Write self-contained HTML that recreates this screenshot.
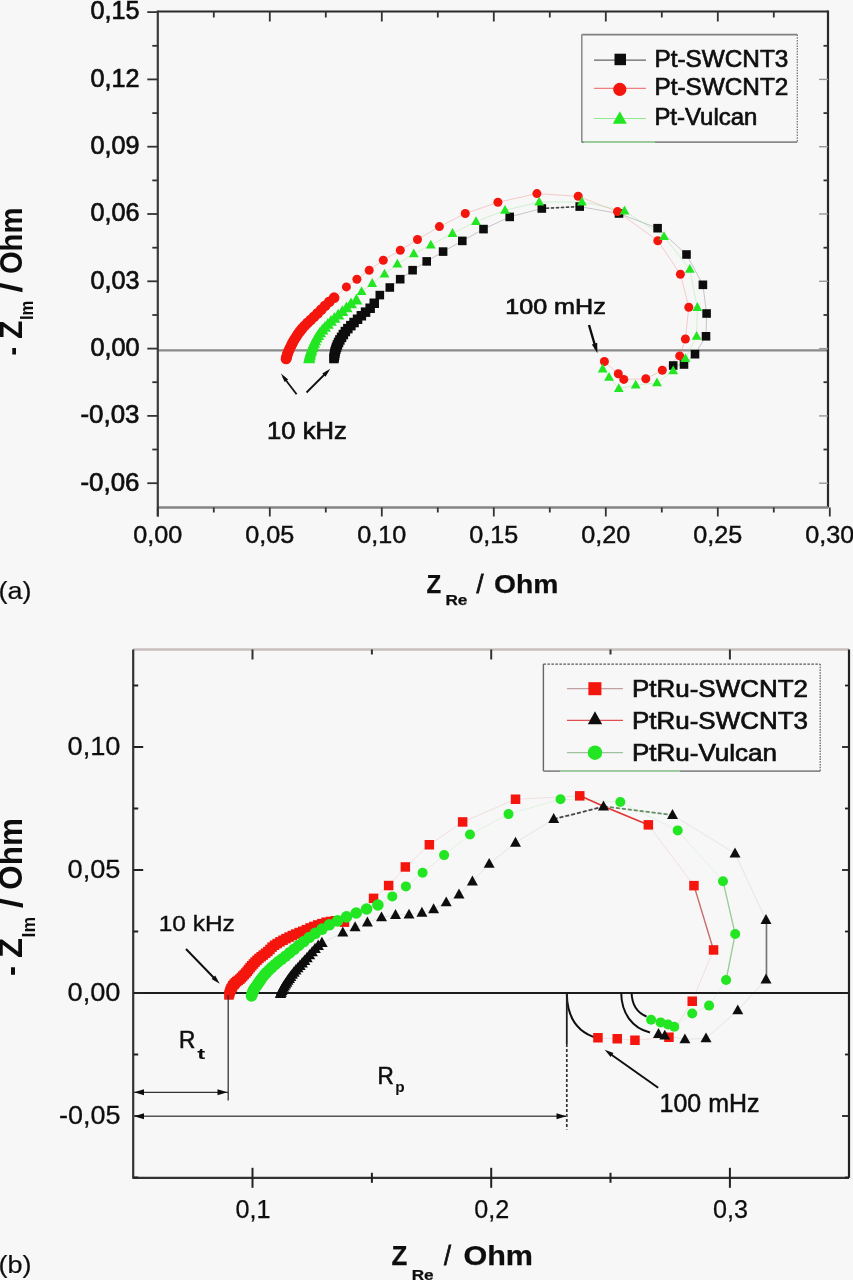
<!DOCTYPE html>
<html><head><meta charset="utf-8"><style>
html,body{margin:0;padding:0;background:#f7f7f7;}
svg{display:block;}
</style></head><body>
<svg width="853" height="1280" viewBox="0 0 853 1280">
<defs><filter id="soft" x="0" y="0" width="100%" height="100%"><feGaussianBlur stdDeviation="0.65"/></filter></defs>
<rect width="853" height="1280" fill="#f7f7f7"/>
<g filter="url(#soft)">
<rect width="853" height="1280" fill="#f7f7f7"/>
<line x1="158.0" y1="350.3" x2="828.0" y2="350.3" stroke="#8a8a8a" stroke-width="2.2"/>
<polyline points="332.5,358.5 332.7,356.9 333.0,355.2 333.3,353.4 333.7,351.4 334.3,349.4 335.0,347.2 335.9,344.9 337.1,342.5 338.4,339.9 340.1,337.3 341.9,334.5 343.8,331.5 346.4,328.6 349.3,325.7 352.5,322.6 356.0,319.3 359.8,315.8 364.1,312.2 368.6,308.2 372.7,303.3 379.8,295.1 389.8,287.5 400.2,279.2 412.6,270.2 426.7,261.4 443.1,251.6 462.3,240.9 483.5,229.1 509.7,216.9 541.8,208.5 579.7,206.6 619.0,213.5 657.6,228.2 686.5,254.5 702.9,284.8 706.6,313.5 706.0,336.3 695.0,354.2 684.0,364.5 673.2,365.5" fill="none" stroke="#666" stroke-width="1" stroke-opacity="0.35"/>
<polyline points="286.1,358.9 286.5,357.4 287.0,355.7 287.5,354.0 288.1,352.2 289.0,350.3 289.9,348.3 290.9,346.2 292.0,344.0 293.1,341.7 294.6,339.3 296.2,336.8 297.9,334.1 299.9,331.4 302.1,328.6 304.7,325.8 307.5,322.9 310.7,320.0 314.0,316.8 317.5,313.4 321.2,309.7 325.1,305.8 329.3,301.8 334.1,297.7 346.4,286.9 356.9,279.3 369.2,270.2 383.3,260.2 400.3,250.3 417.5,239.5 439.4,226.6 465.3,213.5 497.9,202.3 536.9,193.6 578.2,196.3 617.5,211.6 657.8,240.8 680.4,274.2 688.8,307.3 685.4,339.0 679.7,355.9 662.3,370.3 645.8,378.8 623.8,379.4 618.3,373.8 604.4,361.5" fill="none" stroke="#f06060" stroke-width="1" stroke-opacity="0.3"/>
<polyline points="309.1,358.9 309.4,357.3 309.8,355.7 310.2,353.9 310.8,352.0 311.4,350.0 312.2,347.9 313.1,345.7 314.1,343.4 315.2,340.9 316.5,338.3 318.2,335.7 320.1,332.9 322.4,330.2 324.9,327.4 327.8,324.5 330.9,321.4 334.4,318.4 338.2,315.2 342.3,311.8 346.5,307.9 351.0,303.9 356.4,300.3 361.6,291.6 372.2,283.4 384.5,274.0 397.4,264.1 413.8,253.7 430.8,245.0 452.5,233.4 476.0,221.6 505.0,210.3 539.2,202.1 581.9,201.9 624.5,210.9 664.0,236.5 689.8,269.2 697.3,307.4 696.6,336.3 685.4,358.5 673.2,370.7 657.0,382.8 635.7,385.1 618.8,388.6 609.0,377.3 602.7,368.9" fill="none" stroke="#70e070" stroke-width="1" stroke-opacity="0.3"/>
<line x1="546.0" y1="208.3" x2="575.0" y2="206.8" stroke="#444" stroke-width="1.6" stroke-dasharray="3,2"/>
<rect x="329.2" y="353.8" width="9.5" height="9.5" fill="#111111"/>
<rect x="329.5" y="352.2" width="9.5" height="9.5" fill="#111111"/>
<rect x="329.8" y="350.5" width="9.5" height="9.5" fill="#111111"/>
<rect x="330.0" y="348.6" width="9.5" height="9.5" fill="#111111"/>
<rect x="330.4" y="346.7" width="9.5" height="9.5" fill="#111111"/>
<rect x="331.1" y="344.6" width="9.5" height="9.5" fill="#111111"/>
<rect x="331.8" y="342.4" width="9.5" height="9.5" fill="#111111"/>
<rect x="332.7" y="340.1" width="9.5" height="9.5" fill="#111111"/>
<rect x="333.8" y="337.7" width="9.5" height="9.5" fill="#111111"/>
<rect x="335.1" y="335.2" width="9.5" height="9.5" fill="#111111"/>
<rect x="336.8" y="332.6" width="9.5" height="9.5" fill="#111111"/>
<rect x="338.6" y="329.8" width="9.5" height="9.5" fill="#111111"/>
<rect x="340.6" y="326.8" width="9.5" height="9.5" fill="#111111"/>
<rect x="343.1" y="323.9" width="9.5" height="9.5" fill="#111111"/>
<rect x="346.1" y="320.9" width="9.5" height="9.5" fill="#111111"/>
<rect x="349.3" y="317.8" width="9.5" height="9.5" fill="#111111"/>
<rect x="352.8" y="314.5" width="9.5" height="9.5" fill="#111111"/>
<rect x="356.6" y="311.0" width="9.5" height="9.5" fill="#111111"/>
<rect x="360.8" y="307.4" width="9.5" height="9.5" fill="#111111"/>
<rect x="365.4" y="303.5" width="9.5" height="9.5" fill="#111111"/>
<rect x="369.5" y="298.5" width="9.5" height="9.5" fill="#111111"/>
<rect x="375.5" y="290.8" width="8.6" height="8.6" fill="#111111"/>
<rect x="385.5" y="283.2" width="8.6" height="8.6" fill="#111111"/>
<rect x="395.9" y="274.9" width="8.6" height="8.6" fill="#111111"/>
<rect x="408.3" y="265.9" width="8.6" height="8.6" fill="#111111"/>
<rect x="422.4" y="257.1" width="8.6" height="8.6" fill="#111111"/>
<rect x="438.8" y="247.3" width="8.6" height="8.6" fill="#111111"/>
<rect x="458.0" y="236.6" width="8.6" height="8.6" fill="#111111"/>
<rect x="479.2" y="224.8" width="8.6" height="8.6" fill="#111111"/>
<rect x="505.4" y="212.6" width="8.6" height="8.6" fill="#111111"/>
<rect x="537.5" y="204.2" width="8.6" height="8.6" fill="#111111"/>
<rect x="575.4" y="202.3" width="8.6" height="8.6" fill="#111111"/>
<rect x="614.7" y="209.2" width="8.6" height="8.6" fill="#111111"/>
<rect x="653.3" y="223.9" width="8.6" height="8.6" fill="#111111"/>
<rect x="682.2" y="250.2" width="8.6" height="8.6" fill="#111111"/>
<rect x="698.6" y="280.5" width="8.6" height="8.6" fill="#111111"/>
<rect x="702.3" y="309.2" width="8.6" height="8.6" fill="#111111"/>
<rect x="701.7" y="332.0" width="8.6" height="8.6" fill="#111111"/>
<rect x="690.7" y="349.9" width="8.6" height="8.6" fill="#111111"/>
<rect x="679.7" y="360.2" width="8.6" height="8.6" fill="#111111"/>
<rect x="668.9" y="361.2" width="8.6" height="8.6" fill="#111111"/>
<circle cx="286.1" cy="358.9" r="5.4" fill="#f41410"/>
<circle cx="286.5" cy="357.4" r="5.4" fill="#f41410"/>
<circle cx="287.0" cy="355.7" r="5.4" fill="#f41410"/>
<circle cx="287.5" cy="354.0" r="5.4" fill="#f41410"/>
<circle cx="288.1" cy="352.2" r="5.4" fill="#f41410"/>
<circle cx="289.0" cy="350.3" r="5.4" fill="#f41410"/>
<circle cx="289.9" cy="348.3" r="5.4" fill="#f41410"/>
<circle cx="290.9" cy="346.2" r="5.4" fill="#f41410"/>
<circle cx="292.0" cy="344.0" r="5.4" fill="#f41410"/>
<circle cx="293.1" cy="341.7" r="5.4" fill="#f41410"/>
<circle cx="294.6" cy="339.3" r="5.4" fill="#f41410"/>
<circle cx="296.2" cy="336.8" r="5.4" fill="#f41410"/>
<circle cx="297.9" cy="334.1" r="5.4" fill="#f41410"/>
<circle cx="299.9" cy="331.4" r="5.4" fill="#f41410"/>
<circle cx="302.1" cy="328.6" r="5.4" fill="#f41410"/>
<circle cx="304.7" cy="325.8" r="5.4" fill="#f41410"/>
<circle cx="307.5" cy="322.9" r="5.4" fill="#f41410"/>
<circle cx="310.7" cy="320.0" r="5.4" fill="#f41410"/>
<circle cx="314.0" cy="316.8" r="5.4" fill="#f41410"/>
<circle cx="317.5" cy="313.4" r="5.4" fill="#f41410"/>
<circle cx="321.2" cy="309.7" r="5.4" fill="#f41410"/>
<circle cx="325.1" cy="305.8" r="5.4" fill="#f41410"/>
<circle cx="329.3" cy="301.8" r="5.4" fill="#f41410"/>
<circle cx="334.1" cy="297.7" r="5.4" fill="#f41410"/>
<circle cx="346.4" cy="286.9" r="4.5" fill="#f41410"/>
<circle cx="356.9" cy="279.3" r="4.5" fill="#f41410"/>
<circle cx="369.2" cy="270.2" r="4.5" fill="#f41410"/>
<circle cx="383.3" cy="260.2" r="4.5" fill="#f41410"/>
<circle cx="400.3" cy="250.3" r="4.5" fill="#f41410"/>
<circle cx="417.5" cy="239.5" r="4.5" fill="#f41410"/>
<circle cx="439.4" cy="226.6" r="4.5" fill="#f41410"/>
<circle cx="465.3" cy="213.5" r="4.5" fill="#f41410"/>
<circle cx="497.9" cy="202.3" r="4.5" fill="#f41410"/>
<circle cx="536.9" cy="193.6" r="4.5" fill="#f41410"/>
<circle cx="578.2" cy="196.3" r="4.5" fill="#f41410"/>
<circle cx="617.5" cy="211.6" r="4.5" fill="#f41410"/>
<circle cx="657.8" cy="240.8" r="4.5" fill="#f41410"/>
<circle cx="680.4" cy="274.2" r="4.5" fill="#f41410"/>
<circle cx="688.8" cy="307.3" r="4.5" fill="#f41410"/>
<circle cx="685.4" cy="339.0" r="4.5" fill="#f41410"/>
<circle cx="679.7" cy="355.9" r="4.5" fill="#f41410"/>
<circle cx="662.3" cy="370.3" r="4.5" fill="#f41410"/>
<circle cx="645.8" cy="378.8" r="4.5" fill="#f41410"/>
<circle cx="623.8" cy="379.4" r="4.5" fill="#f41410"/>
<circle cx="618.3" cy="373.8" r="4.5" fill="#f41410"/>
<circle cx="604.4" cy="361.5" r="4.5" fill="#f41410"/>
<polygon points="309.1,352.4 303.1,363.2 315.1,363.2" fill="#22e622"/>
<polygon points="309.4,350.9 303.4,361.7 315.4,361.7" fill="#22e622"/>
<polygon points="309.8,349.2 303.8,360.0 315.8,360.0" fill="#22e622"/>
<polygon points="310.2,347.4 304.2,358.2 316.2,358.2" fill="#22e622"/>
<polygon points="310.8,345.5 304.8,356.3 316.8,356.3" fill="#22e622"/>
<polygon points="311.4,343.6 305.4,354.4 317.4,354.4" fill="#22e622"/>
<polygon points="312.2,341.4 306.2,352.2 318.2,352.2" fill="#22e622"/>
<polygon points="313.1,339.2 307.1,350.0 319.1,350.0" fill="#22e622"/>
<polygon points="314.1,336.9 308.1,347.7 320.1,347.7" fill="#22e622"/>
<polygon points="315.2,334.4 309.2,345.2 321.2,345.2" fill="#22e622"/>
<polygon points="316.5,331.8 310.5,342.6 322.5,342.6" fill="#22e622"/>
<polygon points="318.2,329.2 312.2,340.0 324.2,340.0" fill="#22e622"/>
<polygon points="320.1,326.4 314.1,337.2 326.1,337.2" fill="#22e622"/>
<polygon points="322.4,323.7 316.4,334.5 328.4,334.5" fill="#22e622"/>
<polygon points="324.9,320.9 318.9,331.7 330.9,331.7" fill="#22e622"/>
<polygon points="327.8,318.0 321.8,328.8 333.8,328.8" fill="#22e622"/>
<polygon points="330.9,315.0 324.9,325.8 336.9,325.8" fill="#22e622"/>
<polygon points="334.4,311.9 328.4,322.7 340.4,322.7" fill="#22e622"/>
<polygon points="338.2,308.7 332.2,319.5 344.2,319.5" fill="#22e622"/>
<polygon points="342.3,305.3 336.3,316.1 348.3,316.1" fill="#22e622"/>
<polygon points="346.5,301.4 340.5,312.2 352.5,312.2" fill="#22e622"/>
<polygon points="351.0,297.4 345.0,308.2 357.0,308.2" fill="#22e622"/>
<polygon points="356.4,293.8 350.4,304.6 362.4,304.6" fill="#22e622"/>
<polygon points="361.6,286.3 356.7,295.1 366.5,295.1" fill="#22e622"/>
<polygon points="372.2,278.1 367.3,286.9 377.1,286.9" fill="#22e622"/>
<polygon points="384.5,268.7 379.6,277.5 389.4,277.5" fill="#22e622"/>
<polygon points="397.4,258.8 392.5,267.6 402.3,267.6" fill="#22e622"/>
<polygon points="413.8,248.4 408.9,257.2 418.7,257.2" fill="#22e622"/>
<polygon points="430.8,239.7 425.9,248.5 435.7,248.5" fill="#22e622"/>
<polygon points="452.5,228.1 447.6,236.9 457.4,236.9" fill="#22e622"/>
<polygon points="476.0,216.3 471.1,225.1 480.9,225.1" fill="#22e622"/>
<polygon points="505.0,205.0 500.1,213.8 509.9,213.8" fill="#22e622"/>
<polygon points="539.2,196.8 534.3,205.6 544.1,205.6" fill="#22e622"/>
<polygon points="581.9,196.6 577.0,205.4 586.8,205.4" fill="#22e622"/>
<polygon points="624.5,205.6 619.6,214.4 629.4,214.4" fill="#22e622"/>
<polygon points="664.0,231.2 659.1,240.0 668.9,240.0" fill="#22e622"/>
<polygon points="689.8,263.9 684.9,272.7 694.7,272.7" fill="#22e622"/>
<polygon points="697.3,302.1 692.4,310.9 702.2,310.9" fill="#22e622"/>
<polygon points="696.6,331.0 691.7,339.8 701.5,339.8" fill="#22e622"/>
<polygon points="685.4,353.2 680.5,362.0 690.3,362.0" fill="#22e622"/>
<polygon points="673.2,365.4 668.3,374.2 678.1,374.2" fill="#22e622"/>
<polygon points="657.0,377.5 652.1,386.3 661.9,386.3" fill="#22e622"/>
<polygon points="635.7,379.8 630.8,388.6 640.6,388.6" fill="#22e622"/>
<polygon points="618.8,383.3 613.9,392.1 623.7,392.1" fill="#22e622"/>
<polygon points="609.0,372.0 604.1,380.8 613.9,380.8" fill="#22e622"/>
<polygon points="602.7,363.6 597.8,372.4 607.6,372.4" fill="#22e622"/>
<line x1="157.8" y1="11.5" x2="828.0" y2="11.5" stroke="#2a2a2a" stroke-width="2.2"/>
<line x1="828.0" y1="10.5" x2="828.0" y2="507.5" stroke="#2a2a2a" stroke-width="2.2"/>
<line x1="157.8" y1="507.5" x2="828.0" y2="507.5" stroke="#858585" stroke-width="2.5"/>
<line x1="157.8" y1="10.5" x2="157.8" y2="516.5" stroke="#3a3a3a" stroke-width="2.2"/>
<line x1="147.3" y1="483.2" x2="157.8" y2="483.2" stroke="#333" stroke-width="1.8"/>
<line x1="819.0" y1="483.2" x2="828.0" y2="483.2" stroke="#999" stroke-width="1.4"/>
<text x="139.5" y="490.5" font-family="Liberation Sans" font-size="25.5" font-weight="normal" text-anchor="end" fill="#111" stroke="#111" stroke-width="0.7" textLength="59" lengthAdjust="spacingAndGlyphs">-0,06</text>
<line x1="152.3" y1="449.5" x2="157.8" y2="449.5" stroke="#333" stroke-width="1.8"/>
<line x1="823.5" y1="449.5" x2="828.0" y2="449.5" stroke="#333" stroke-width="1.8"/>
<line x1="147.3" y1="415.9" x2="157.8" y2="415.9" stroke="#333" stroke-width="1.8"/>
<line x1="819.0" y1="415.9" x2="828.0" y2="415.9" stroke="#999" stroke-width="1.4"/>
<text x="139.5" y="423.2" font-family="Liberation Sans" font-size="25.5" font-weight="normal" text-anchor="end" fill="#111" stroke="#111" stroke-width="0.7" textLength="59" lengthAdjust="spacingAndGlyphs">-0,03</text>
<line x1="152.3" y1="382.2" x2="157.8" y2="382.2" stroke="#333" stroke-width="1.8"/>
<line x1="823.5" y1="382.2" x2="828.0" y2="382.2" stroke="#333" stroke-width="1.8"/>
<line x1="147.3" y1="348.6" x2="157.8" y2="348.6" stroke="#333" stroke-width="1.8"/>
<line x1="819.0" y1="348.6" x2="828.0" y2="348.6" stroke="#999" stroke-width="1.4"/>
<text x="139.5" y="355.9" font-family="Liberation Sans" font-size="25.5" font-weight="normal" text-anchor="end" fill="#111" stroke="#111" stroke-width="0.7" textLength="49" lengthAdjust="spacingAndGlyphs">0,00</text>
<line x1="152.3" y1="315.0" x2="157.8" y2="315.0" stroke="#333" stroke-width="1.8"/>
<line x1="823.5" y1="315.0" x2="828.0" y2="315.0" stroke="#333" stroke-width="1.8"/>
<line x1="147.3" y1="281.3" x2="157.8" y2="281.3" stroke="#333" stroke-width="1.8"/>
<line x1="819.0" y1="281.3" x2="828.0" y2="281.3" stroke="#999" stroke-width="1.4"/>
<text x="139.5" y="288.6" font-family="Liberation Sans" font-size="25.5" font-weight="normal" text-anchor="end" fill="#111" stroke="#111" stroke-width="0.7" textLength="49" lengthAdjust="spacingAndGlyphs">0,03</text>
<line x1="152.3" y1="247.7" x2="157.8" y2="247.7" stroke="#333" stroke-width="1.8"/>
<line x1="823.5" y1="247.7" x2="828.0" y2="247.7" stroke="#333" stroke-width="1.8"/>
<line x1="147.3" y1="214.0" x2="157.8" y2="214.0" stroke="#333" stroke-width="1.8"/>
<line x1="819.0" y1="214.0" x2="828.0" y2="214.0" stroke="#999" stroke-width="1.4"/>
<text x="139.5" y="221.3" font-family="Liberation Sans" font-size="25.5" font-weight="normal" text-anchor="end" fill="#111" stroke="#111" stroke-width="0.7" textLength="49" lengthAdjust="spacingAndGlyphs">0,06</text>
<line x1="152.3" y1="180.4" x2="157.8" y2="180.4" stroke="#333" stroke-width="1.8"/>
<line x1="823.5" y1="180.4" x2="828.0" y2="180.4" stroke="#333" stroke-width="1.8"/>
<line x1="147.3" y1="146.7" x2="157.8" y2="146.7" stroke="#333" stroke-width="1.8"/>
<line x1="819.0" y1="146.7" x2="828.0" y2="146.7" stroke="#999" stroke-width="1.4"/>
<text x="139.5" y="154.0" font-family="Liberation Sans" font-size="25.5" font-weight="normal" text-anchor="end" fill="#111" stroke="#111" stroke-width="0.7" textLength="49" lengthAdjust="spacingAndGlyphs">0,09</text>
<line x1="152.3" y1="113.1" x2="157.8" y2="113.1" stroke="#333" stroke-width="1.8"/>
<line x1="823.5" y1="113.1" x2="828.0" y2="113.1" stroke="#333" stroke-width="1.8"/>
<line x1="147.3" y1="79.4" x2="157.8" y2="79.4" stroke="#333" stroke-width="1.8"/>
<line x1="819.0" y1="79.4" x2="828.0" y2="79.4" stroke="#999" stroke-width="1.4"/>
<text x="139.5" y="86.7" font-family="Liberation Sans" font-size="25.5" font-weight="normal" text-anchor="end" fill="#111" stroke="#111" stroke-width="0.7" textLength="49" lengthAdjust="spacingAndGlyphs">0,12</text>
<line x1="152.3" y1="45.8" x2="157.8" y2="45.8" stroke="#333" stroke-width="1.8"/>
<line x1="823.5" y1="45.8" x2="828.0" y2="45.8" stroke="#333" stroke-width="1.8"/>
<line x1="147.3" y1="12.1" x2="157.8" y2="12.1" stroke="#333" stroke-width="1.8"/>
<text x="139.5" y="19.4" font-family="Liberation Sans" font-size="25.5" font-weight="normal" text-anchor="end" fill="#111" stroke="#111" stroke-width="0.7" textLength="49" lengthAdjust="spacingAndGlyphs">0,15</text>
<line x1="157.8" y1="507.5" x2="157.8" y2="516.5" stroke="#333" stroke-width="1.8"/>
<text x="157.8" y="543.2" font-family="Liberation Sans" font-size="24.5" font-weight="normal" text-anchor="middle" fill="#111" stroke="#111" stroke-width="0.45" textLength="49" lengthAdjust="spacingAndGlyphs">0,00</text>
<line x1="213.8" y1="507.5" x2="213.8" y2="512.5" stroke="#333" stroke-width="1.8"/>
<line x1="213.8" y1="11.5" x2="213.8" y2="17.5" stroke="#333" stroke-width="1.8"/>
<line x1="269.8" y1="507.5" x2="269.8" y2="516.5" stroke="#333" stroke-width="1.8"/>
<line x1="269.8" y1="11.5" x2="269.8" y2="21.5" stroke="#333" stroke-width="1.8"/>
<text x="269.8" y="543.2" font-family="Liberation Sans" font-size="24.5" font-weight="normal" text-anchor="middle" fill="#111" stroke="#111" stroke-width="0.45" textLength="49" lengthAdjust="spacingAndGlyphs">0,05</text>
<line x1="325.8" y1="507.5" x2="325.8" y2="512.5" stroke="#333" stroke-width="1.8"/>
<line x1="325.8" y1="11.5" x2="325.8" y2="17.5" stroke="#333" stroke-width="1.8"/>
<line x1="381.8" y1="507.5" x2="381.8" y2="516.5" stroke="#333" stroke-width="1.8"/>
<line x1="381.8" y1="11.5" x2="381.8" y2="21.5" stroke="#333" stroke-width="1.8"/>
<text x="381.8" y="543.2" font-family="Liberation Sans" font-size="24.5" font-weight="normal" text-anchor="middle" fill="#111" stroke="#111" stroke-width="0.45" textLength="49" lengthAdjust="spacingAndGlyphs">0,10</text>
<line x1="437.8" y1="507.5" x2="437.8" y2="512.5" stroke="#333" stroke-width="1.8"/>
<line x1="437.8" y1="11.5" x2="437.8" y2="17.5" stroke="#333" stroke-width="1.8"/>
<line x1="493.8" y1="507.5" x2="493.8" y2="516.5" stroke="#333" stroke-width="1.8"/>
<line x1="493.8" y1="11.5" x2="493.8" y2="21.5" stroke="#333" stroke-width="1.8"/>
<text x="493.8" y="543.2" font-family="Liberation Sans" font-size="24.5" font-weight="normal" text-anchor="middle" fill="#111" stroke="#111" stroke-width="0.45" textLength="49" lengthAdjust="spacingAndGlyphs">0,15</text>
<line x1="549.8" y1="507.5" x2="549.8" y2="512.5" stroke="#333" stroke-width="1.8"/>
<line x1="549.8" y1="11.5" x2="549.8" y2="17.5" stroke="#333" stroke-width="1.8"/>
<line x1="605.8" y1="507.5" x2="605.8" y2="516.5" stroke="#333" stroke-width="1.8"/>
<line x1="605.8" y1="11.5" x2="605.8" y2="21.5" stroke="#333" stroke-width="1.8"/>
<text x="605.8" y="543.2" font-family="Liberation Sans" font-size="24.5" font-weight="normal" text-anchor="middle" fill="#111" stroke="#111" stroke-width="0.45" textLength="49" lengthAdjust="spacingAndGlyphs">0,20</text>
<line x1="661.8" y1="507.5" x2="661.8" y2="512.5" stroke="#333" stroke-width="1.8"/>
<line x1="661.8" y1="11.5" x2="661.8" y2="17.5" stroke="#333" stroke-width="1.8"/>
<line x1="717.8" y1="507.5" x2="717.8" y2="516.5" stroke="#333" stroke-width="1.8"/>
<line x1="717.8" y1="11.5" x2="717.8" y2="21.5" stroke="#333" stroke-width="1.8"/>
<text x="717.8" y="543.2" font-family="Liberation Sans" font-size="24.5" font-weight="normal" text-anchor="middle" fill="#111" stroke="#111" stroke-width="0.45" textLength="49" lengthAdjust="spacingAndGlyphs">0,25</text>
<line x1="773.8" y1="507.5" x2="773.8" y2="512.5" stroke="#333" stroke-width="1.8"/>
<line x1="773.8" y1="11.5" x2="773.8" y2="17.5" stroke="#333" stroke-width="1.8"/>
<line x1="829.8" y1="507.5" x2="829.8" y2="516.5" stroke="#333" stroke-width="1.8"/>
<text x="829.8" y="543.2" font-family="Liberation Sans" font-size="24.5" font-weight="normal" text-anchor="middle" fill="#111" stroke="#111" stroke-width="0.45" textLength="49" lengthAdjust="spacingAndGlyphs">0,30</text>
<line x1="581.8" y1="34.6" x2="797.3" y2="34.6" stroke="#808080" stroke-width="1.6"/>
<line x1="581.8" y1="34.6" x2="581.8" y2="142.4" stroke="#888" stroke-width="1.5"/>
<line x1="581.8" y1="142.2" x2="797.3" y2="142.2" stroke="#8a8a8a" stroke-width="1.8"/>
<line x1="584.0" y1="142.2" x2="655.0" y2="142.2" stroke="#9ad09a" stroke-width="1.8"/>
<line x1="797.3" y1="34.6" x2="797.3" y2="142.4" stroke="#777" stroke-width="1.3" stroke-dasharray="1.5,1.2"/>
<line x1="594.0" y1="60.2" x2="646.0" y2="60.2" stroke="#666" stroke-width="1.2"/>
<rect x="614.5" y="53.7" width="11.5" height="11.5" fill="#111111"/>
<text x="654.4" y="66.7" font-family="Liberation Sans" font-size="24.5" font-weight="normal" text-anchor="start" fill="#111" stroke="#111" stroke-width="0.7" textLength="134" lengthAdjust="spacingAndGlyphs">Pt-SWCNT3</text>
<line x1="594.0" y1="88.4" x2="646.0" y2="88.4" stroke="#f08080" stroke-width="1.2"/>
<circle cx="619.8" cy="89.4" r="6.6" fill="#f41410"/>
<text x="654.4" y="94.9" font-family="Liberation Sans" font-size="24.5" font-weight="normal" text-anchor="start" fill="#111" stroke="#111" stroke-width="0.7" textLength="134" lengthAdjust="spacingAndGlyphs">Pt-SWCNT2</text>
<line x1="594.0" y1="118.5" x2="646.0" y2="118.5" stroke="#90e890" stroke-width="1.2"/>
<polygon points="619.8,111.2 612.8,123.8 626.8,123.8" fill="#22e622"/>
<text x="654.4" y="125.0" font-family="Liberation Sans" font-size="24.5" font-weight="normal" text-anchor="start" fill="#111" stroke="#111" stroke-width="0.7" textLength="103" lengthAdjust="spacingAndGlyphs">Pt-Vulcan</text>
<text x="267.1" y="439.3" font-family="Liberation Sans" font-size="24" font-weight="normal" text-anchor="start" fill="#111" stroke="#111" stroke-width="0.7" textLength="79.6" lengthAdjust="spacingAndGlyphs">10 kHz</text>
<line x1="296.6" y1="394.2" x2="283.0" y2="376.5" stroke="#111" stroke-width="1.8"/>
<polygon points="281.0,373.6 288.2,379.4 284.6,382.1" fill="#111"/>
<line x1="306.5" y1="392.5" x2="327.5" y2="371.5" stroke="#111" stroke-width="1.8"/>
<polygon points="330.3,368.7 325.5,376.7 322.3,373.5" fill="#111"/>
<text x="505.2" y="314.4" font-family="Liberation Sans" font-size="22" font-weight="normal" text-anchor="start" fill="#111" stroke="#111" stroke-width="0.7" textLength="100.6" lengthAdjust="spacingAndGlyphs">100 mHz</text>
<line x1="589.0" y1="325.0" x2="596.0" y2="349.0" stroke="#111" stroke-width="2.4"/>
<polygon points="597.4,353.2 591.9,344.4 597.2,342.8" fill="#111"/>
<text x="426.4" y="592.7" font-family="Liberation Sans" font-size="25.5" font-weight="bold" text-anchor="start" fill="#111" stroke="#111" stroke-width="0.25" textLength="14.7" lengthAdjust="spacingAndGlyphs">Z</text>
<text x="445.4" y="605.4" font-family="Liberation Sans" font-size="14.5" font-weight="bold" text-anchor="start" fill="#111" stroke="#111" stroke-width="0.25" textLength="22" lengthAdjust="spacingAndGlyphs">Re</text>
<text x="476.5" y="592.7" font-family="Liberation Sans" font-size="25.5" font-weight="normal" text-anchor="start" fill="#111" stroke="#111" stroke-width="0.8" textLength="7" lengthAdjust="spacingAndGlyphs">/</text>
<text x="493.9" y="592.7" font-family="Liberation Sans" font-size="25.5" font-weight="bold" text-anchor="start" fill="#111" stroke="#111" stroke-width="0.25" textLength="64.4" lengthAdjust="spacingAndGlyphs">Ohm</text>
<g transform="translate(22.2,355.6) rotate(-90)"><text x="0.0" y="0.0" font-family="Liberation Sans" font-size="32" font-weight="bold" text-anchor="start" fill="#111" textLength="8.5" lengthAdjust="spacingAndGlyphs">-</text><text x="16.5" y="0.0" font-family="Liberation Sans" font-size="32" font-weight="bold" text-anchor="start" fill="#111" textLength="18.5" lengthAdjust="spacingAndGlyphs">Z</text><text x="35.5" y="11.0" font-family="Liberation Sans" font-size="17.5" font-weight="bold" text-anchor="start" fill="#111" textLength="19.5" lengthAdjust="spacingAndGlyphs">Im</text><text x="63.0" y="0.0" font-family="Liberation Sans" font-size="32" font-weight="bold" text-anchor="start" fill="#111" textLength="10" lengthAdjust="spacingAndGlyphs">/</text><text x="81.5" y="0.0" font-family="Liberation Sans" font-size="32" font-weight="bold" text-anchor="start" fill="#111" textLength="66.5" lengthAdjust="spacingAndGlyphs">Ohm</text></g>
<text x="-1.5" y="598.5" font-family="Liberation Sans" font-size="23.5" font-weight="normal" text-anchor="start" fill="#111" stroke="#111" stroke-width="0.2" textLength="33" lengthAdjust="spacingAndGlyphs">(a)</text>
<line x1="133.0" y1="993.0" x2="849.0" y2="993.0" stroke="#1a1a1a" stroke-width="2.2"/>
<polyline points="280.5,994.0 281.1,992.5 281.8,991.0 282.4,989.3 283.2,987.7 284.3,986.0 285.4,984.3 286.6,982.6 287.9,980.7 289.2,978.8 290.6,976.7 292.2,974.6 293.9,972.5 295.8,970.3 297.8,968.1 299.9,965.7 302.2,963.3 304.5,960.7 307.0,958.0 309.5,955.1 312.2,952.1 315.0,949.0 318.2,945.8 321.9,943.0 342.8,932.5 355.1,927.2 367.4,922.5 381.5,917.3 395.5,914.9 409.0,914.6 421.9,912.7 433.6,909.2 446.2,902.3 459.0,894.4 472.4,881.5 489.2,863.8 515.5,842.7 553.7,819.0 603.5,806.5 672.5,815.0 735.0,853.4 766.0,920.0 766.0,979.5 737.8,1010.3 706.0,1038.3 684.9,1039.3 664.8,1035.6 658.5,1034.0" fill="none" stroke="#666" stroke-width="1" stroke-opacity="0.12"/>
<polyline points="229.0,995.0 229.5,993.5 229.9,991.9 230.4,990.3 231.2,988.8 232.0,987.2 232.9,985.6 234.0,984.2 235.3,982.8 236.7,981.5 238.2,980.3 239.9,979.1 241.3,977.7 242.8,976.1 244.3,974.6 245.8,973.0 247.2,971.2 248.7,969.4 250.2,967.6 251.8,965.8 253.4,963.9 255.2,962.1 257.1,960.3 259.0,958.5 261.1,956.8 263.3,955.0 265.5,953.3 267.8,951.5 270.0,949.4 272.1,947.2 274.5,945.3 277.2,943.5 280.0,941.9 282.9,940.2 286.0,938.6 289.1,937.1 292.3,935.5 295.7,934.0 299.1,932.6 302.7,931.2 306.4,929.7 310.0,928.0 313.8,926.5 317.8,924.9 321.9,923.6 326.1,922.3 330.5,921.5 335.1,920.8 339.8,921.1 344.5,922.1 373.5,898.4 388.7,885.5 405.4,867.0 429.4,844.7 462.7,822.0 515.5,799.3 579.8,795.9 648.4,824.9 694.0,885.6 713.5,950.0 692.2,1001.3 669.0,1037.2 635.0,1040.2 617.3,1038.8 598.0,1037.8" fill="none" stroke="#e05050" stroke-width="1" stroke-opacity="0.15"/>
<polyline points="251.5,996.0 251.9,994.7 252.4,993.2 252.9,991.7 253.5,990.1 254.5,988.6 255.7,987.0 257.0,985.3 258.2,983.4 259.6,981.4 261.1,979.2 262.8,977.0 264.6,974.6 266.8,972.3 269.2,969.8 271.9,967.3 274.9,964.7 278.1,961.9 281.7,959.2 285.6,956.2 289.6,952.9 294.0,949.4 298.6,945.5 303.7,941.6 309.2,937.5 315.3,933.3 322.0,929.1 329.3,924.8 337.6,920.9 346.5,916.9 356.2,913.0 366.6,909.0 377.9,905.0 392.3,896.4 405.9,886.4 422.6,872.8 444.1,855.1 470.0,834.5 508.5,814.1 560.5,799.2 620.3,802.0 677.7,830.4 723.0,881.2 735.2,934.0 726.1,980.0 709.1,1005.6 692.2,1013.5 674.3,1026.7 668.0,1024.5 660.6,1022.4 651.1,1019.8" fill="none" stroke="#60d860" stroke-width="1" stroke-opacity="0.15"/>
<polyline points="553.7,819.2 604.0,806.4" fill="none" stroke="#333" stroke-width="1.8" stroke-opacity="0.9" stroke-dasharray="4,2"/>
<polyline points="604.0,806.4 672.5,815.0" fill="none" stroke="#4a7a4a" stroke-width="1.6" stroke-opacity="0.85" stroke-dasharray="4,2"/>
<polyline points="580.0,795.8 604.0,806.4 648.6,824.9" fill="none" stroke="#e02020" stroke-width="1.6" stroke-opacity="0.9"/>
<polyline points="694.0,885.6 713.5,950.0" fill="none" stroke="#c06060" stroke-width="1.4" stroke-opacity="0.9"/>
<polyline points="723.0,881.2 735.2,934.0 726.1,980.0" fill="none" stroke="#90c890" stroke-width="1.3" stroke-opacity="0.9"/>
<polyline points="766.5,920.0 766.5,979.5" fill="none" stroke="#666" stroke-width="1.6" stroke-opacity="0.9"/>
<path d="M566.8,993 C567,1016 576,1032 597,1038" fill="none" stroke="#111" stroke-width="2"/>
<path d="M621.2,993 C621.5,1013 632,1028 650,1032.5" fill="none" stroke="#111" stroke-width="2"/>
<path d="M631.6,993 C632,1005 638,1013 646.5,1016.5" fill="none" stroke="#111" stroke-width="2"/>
<rect x="224.2" y="990.2" width="9.5" height="9.5" fill="#f41410"/>
<rect x="224.7" y="988.7" width="9.5" height="9.5" fill="#f41410"/>
<rect x="225.2" y="987.1" width="9.5" height="9.5" fill="#f41410"/>
<rect x="225.7" y="985.5" width="9.5" height="9.5" fill="#f41410"/>
<rect x="226.4" y="984.0" width="9.5" height="9.5" fill="#f41410"/>
<rect x="227.3" y="982.5" width="9.5" height="9.5" fill="#f41410"/>
<rect x="228.1" y="980.9" width="9.5" height="9.5" fill="#f41410"/>
<rect x="229.3" y="979.5" width="9.5" height="9.5" fill="#f41410"/>
<rect x="230.5" y="978.1" width="9.5" height="9.5" fill="#f41410"/>
<rect x="231.9" y="976.8" width="9.5" height="9.5" fill="#f41410"/>
<rect x="233.5" y="975.6" width="9.5" height="9.5" fill="#f41410"/>
<rect x="235.1" y="974.4" width="9.5" height="9.5" fill="#f41410"/>
<rect x="236.6" y="972.9" width="9.5" height="9.5" fill="#f41410"/>
<rect x="238.0" y="971.4" width="9.5" height="9.5" fill="#f41410"/>
<rect x="239.5" y="969.8" width="9.5" height="9.5" fill="#f41410"/>
<rect x="241.1" y="968.2" width="9.5" height="9.5" fill="#f41410"/>
<rect x="242.5" y="966.5" width="9.5" height="9.5" fill="#f41410"/>
<rect x="243.9" y="964.7" width="9.5" height="9.5" fill="#f41410"/>
<rect x="245.4" y="962.8" width="9.5" height="9.5" fill="#f41410"/>
<rect x="247.0" y="961.0" width="9.5" height="9.5" fill="#f41410"/>
<rect x="248.7" y="959.2" width="9.5" height="9.5" fill="#f41410"/>
<rect x="250.4" y="957.3" width="9.5" height="9.5" fill="#f41410"/>
<rect x="252.3" y="955.5" width="9.5" height="9.5" fill="#f41410"/>
<rect x="254.2" y="953.7" width="9.5" height="9.5" fill="#f41410"/>
<rect x="256.4" y="952.0" width="9.5" height="9.5" fill="#f41410"/>
<rect x="258.5" y="950.3" width="9.5" height="9.5" fill="#f41410"/>
<rect x="260.8" y="948.5" width="9.5" height="9.5" fill="#f41410"/>
<rect x="263.1" y="946.8" width="9.5" height="9.5" fill="#f41410"/>
<rect x="265.2" y="944.7" width="9.5" height="9.5" fill="#f41410"/>
<rect x="267.3" y="942.4" width="9.5" height="9.5" fill="#f41410"/>
<rect x="269.8" y="940.5" width="9.5" height="9.5" fill="#f41410"/>
<rect x="272.4" y="938.8" width="9.5" height="9.5" fill="#f41410"/>
<rect x="275.2" y="937.1" width="9.5" height="9.5" fill="#f41410"/>
<rect x="278.2" y="935.5" width="9.5" height="9.5" fill="#f41410"/>
<rect x="281.2" y="933.9" width="9.5" height="9.5" fill="#f41410"/>
<rect x="284.3" y="932.3" width="9.5" height="9.5" fill="#f41410"/>
<rect x="287.6" y="930.8" width="9.5" height="9.5" fill="#f41410"/>
<rect x="290.9" y="929.3" width="9.5" height="9.5" fill="#f41410"/>
<rect x="294.4" y="927.8" width="9.5" height="9.5" fill="#f41410"/>
<rect x="298.0" y="926.5" width="9.5" height="9.5" fill="#f41410"/>
<rect x="301.6" y="924.9" width="9.5" height="9.5" fill="#f41410"/>
<rect x="305.3" y="923.2" width="9.5" height="9.5" fill="#f41410"/>
<rect x="309.1" y="921.7" width="9.5" height="9.5" fill="#f41410"/>
<rect x="313.0" y="920.2" width="9.5" height="9.5" fill="#f41410"/>
<rect x="317.1" y="918.9" width="9.5" height="9.5" fill="#f41410"/>
<rect x="321.3" y="917.5" width="9.5" height="9.5" fill="#f41410"/>
<rect x="325.8" y="916.7" width="9.5" height="9.5" fill="#f41410"/>
<rect x="330.4" y="916.0" width="9.5" height="9.5" fill="#f41410"/>
<rect x="335.0" y="916.3" width="9.5" height="9.5" fill="#f41410"/>
<rect x="339.7" y="917.4" width="9.5" height="9.5" fill="#f41410"/>
<rect x="368.8" y="893.6" width="9.5" height="9.5" fill="#f41410"/>
<rect x="383.9" y="880.8" width="9.5" height="9.5" fill="#f41410"/>
<rect x="400.6" y="862.2" width="9.5" height="9.5" fill="#f41410"/>
<rect x="424.6" y="840.0" width="9.5" height="9.5" fill="#f41410"/>
<rect x="457.9" y="817.2" width="9.5" height="9.5" fill="#f41410"/>
<rect x="510.8" y="794.5" width="9.5" height="9.5" fill="#f41410"/>
<rect x="575.0" y="791.1" width="9.5" height="9.5" fill="#f41410"/>
<rect x="643.6" y="820.1" width="9.5" height="9.5" fill="#f41410"/>
<rect x="689.2" y="880.9" width="9.5" height="9.5" fill="#f41410"/>
<rect x="708.8" y="945.2" width="9.5" height="9.5" fill="#f41410"/>
<rect x="687.5" y="996.5" width="9.5" height="9.5" fill="#f41410"/>
<rect x="664.2" y="1032.5" width="9.5" height="9.5" fill="#f41410"/>
<rect x="630.2" y="1035.5" width="9.5" height="9.5" fill="#f41410"/>
<rect x="612.5" y="1034.0" width="9.5" height="9.5" fill="#f41410"/>
<rect x="593.2" y="1033.0" width="9.5" height="9.5" fill="#f41410"/>
<circle cx="251.5" cy="996.0" r="5.8" fill="#22e622"/>
<circle cx="251.9" cy="994.7" r="5.8" fill="#22e622"/>
<circle cx="252.4" cy="993.2" r="5.8" fill="#22e622"/>
<circle cx="252.9" cy="991.7" r="5.8" fill="#22e622"/>
<circle cx="253.5" cy="990.1" r="5.8" fill="#22e622"/>
<circle cx="254.5" cy="988.6" r="5.8" fill="#22e622"/>
<circle cx="255.7" cy="987.0" r="5.8" fill="#22e622"/>
<circle cx="257.0" cy="985.3" r="5.8" fill="#22e622"/>
<circle cx="258.2" cy="983.4" r="5.8" fill="#22e622"/>
<circle cx="259.6" cy="981.4" r="5.8" fill="#22e622"/>
<circle cx="261.1" cy="979.2" r="5.8" fill="#22e622"/>
<circle cx="262.8" cy="977.0" r="5.8" fill="#22e622"/>
<circle cx="264.6" cy="974.6" r="5.8" fill="#22e622"/>
<circle cx="266.8" cy="972.3" r="5.8" fill="#22e622"/>
<circle cx="269.2" cy="969.8" r="5.8" fill="#22e622"/>
<circle cx="271.9" cy="967.3" r="5.8" fill="#22e622"/>
<circle cx="274.9" cy="964.7" r="5.8" fill="#22e622"/>
<circle cx="278.1" cy="961.9" r="5.8" fill="#22e622"/>
<circle cx="281.7" cy="959.2" r="5.8" fill="#22e622"/>
<circle cx="285.6" cy="956.2" r="5.8" fill="#22e622"/>
<circle cx="289.6" cy="952.9" r="5.8" fill="#22e622"/>
<circle cx="294.0" cy="949.4" r="5.8" fill="#22e622"/>
<circle cx="298.6" cy="945.5" r="5.8" fill="#22e622"/>
<circle cx="303.7" cy="941.6" r="5.8" fill="#22e622"/>
<circle cx="309.2" cy="937.5" r="5.8" fill="#22e622"/>
<circle cx="315.3" cy="933.3" r="5.8" fill="#22e622"/>
<circle cx="322.0" cy="929.1" r="5.8" fill="#22e622"/>
<circle cx="329.3" cy="924.8" r="5.8" fill="#22e622"/>
<circle cx="337.6" cy="920.9" r="5.8" fill="#22e622"/>
<circle cx="346.5" cy="916.9" r="5.8" fill="#22e622"/>
<circle cx="356.2" cy="913.0" r="5.8" fill="#22e622"/>
<circle cx="366.6" cy="909.0" r="5.8" fill="#22e622"/>
<circle cx="377.9" cy="905.0" r="5.8" fill="#22e622"/>
<circle cx="392.3" cy="896.4" r="5" fill="#22e622"/>
<circle cx="405.9" cy="886.4" r="5" fill="#22e622"/>
<circle cx="422.6" cy="872.8" r="5" fill="#22e622"/>
<circle cx="444.1" cy="855.1" r="5" fill="#22e622"/>
<circle cx="470.0" cy="834.5" r="5" fill="#22e622"/>
<circle cx="508.5" cy="814.1" r="5" fill="#22e622"/>
<circle cx="560.5" cy="799.2" r="5" fill="#22e622"/>
<circle cx="620.3" cy="802.0" r="5" fill="#22e622"/>
<circle cx="677.7" cy="830.4" r="5" fill="#22e622"/>
<circle cx="723.0" cy="881.2" r="5" fill="#22e622"/>
<circle cx="735.2" cy="934.0" r="5" fill="#22e622"/>
<circle cx="726.1" cy="980.0" r="5" fill="#22e622"/>
<circle cx="709.1" cy="1005.6" r="5" fill="#22e622"/>
<circle cx="692.2" cy="1013.5" r="5" fill="#22e622"/>
<circle cx="674.3" cy="1026.7" r="5" fill="#22e622"/>
<circle cx="668.0" cy="1024.5" r="5" fill="#22e622"/>
<circle cx="660.6" cy="1022.4" r="5" fill="#22e622"/>
<circle cx="651.1" cy="1019.8" r="5" fill="#22e622"/>
<polygon points="280.5,987.8 274.8,998.1 286.2,998.1" fill="#111111"/>
<polygon points="281.1,986.3 275.4,996.7 286.9,996.7" fill="#111111"/>
<polygon points="281.8,984.8 276.0,995.1 287.5,995.1" fill="#111111"/>
<polygon points="282.4,983.1 276.7,993.5 288.2,993.5" fill="#111111"/>
<polygon points="283.2,981.5 277.5,991.8 289.0,991.8" fill="#111111"/>
<polygon points="284.3,979.8 278.5,990.2 290.0,990.2" fill="#111111"/>
<polygon points="285.4,978.1 279.7,988.5 291.2,988.5" fill="#111111"/>
<polygon points="286.6,976.3 280.9,986.7 292.4,986.7" fill="#111111"/>
<polygon points="287.9,974.5 282.1,984.8 293.6,984.8" fill="#111111"/>
<polygon points="289.2,972.5 283.5,982.9 295.0,982.9" fill="#111111"/>
<polygon points="290.6,970.5 284.9,980.9 296.4,980.9" fill="#111111"/>
<polygon points="292.2,968.4 286.4,978.8 297.9,978.8" fill="#111111"/>
<polygon points="293.9,966.3 288.2,976.7 299.7,976.7" fill="#111111"/>
<polygon points="295.8,964.1 290.0,974.5 301.5,974.5" fill="#111111"/>
<polygon points="297.8,961.9 292.0,972.2 303.5,972.2" fill="#111111"/>
<polygon points="299.9,959.5 294.2,969.9 305.7,969.9" fill="#111111"/>
<polygon points="302.2,957.1 296.4,967.4 307.9,967.4" fill="#111111"/>
<polygon points="304.5,954.5 298.8,964.9 310.3,964.9" fill="#111111"/>
<polygon points="307.0,951.8 301.2,962.2 312.7,962.2" fill="#111111"/>
<polygon points="309.5,948.9 303.7,959.2 315.2,959.2" fill="#111111"/>
<polygon points="312.2,945.9 306.4,956.2 317.9,956.2" fill="#111111"/>
<polygon points="315.0,942.7 309.3,953.1 320.8,953.1" fill="#111111"/>
<polygon points="318.2,939.6 312.4,949.9 323.9,949.9" fill="#111111"/>
<polygon points="321.9,936.8 316.2,947.1 327.7,947.1" fill="#111111"/>
<polygon points="342.8,926.6 337.3,936.5 348.3,936.5" fill="#111111"/>
<polygon points="355.1,921.3 349.6,931.2 360.6,931.2" fill="#111111"/>
<polygon points="367.4,916.6 361.9,926.5 372.9,926.5" fill="#111111"/>
<polygon points="381.5,911.4 376.0,921.3 387.0,921.3" fill="#111111"/>
<polygon points="395.5,909.0 390.0,918.9 401.0,918.9" fill="#111111"/>
<polygon points="409.0,908.7 403.5,918.6 414.5,918.6" fill="#111111"/>
<polygon points="421.9,906.8 416.4,916.7 427.4,916.7" fill="#111111"/>
<polygon points="433.6,903.3 428.1,913.2 439.1,913.2" fill="#111111"/>
<polygon points="446.2,896.4 440.7,906.3 451.7,906.3" fill="#111111"/>
<polygon points="459.0,888.5 453.5,898.4 464.5,898.4" fill="#111111"/>
<polygon points="472.4,875.6 466.9,885.5 477.9,885.5" fill="#111111"/>
<polygon points="489.2,857.9 483.7,867.8 494.7,867.8" fill="#111111"/>
<polygon points="515.5,836.8 510.0,846.7 521.0,846.7" fill="#111111"/>
<polygon points="553.7,813.1 548.2,823.0 559.2,823.0" fill="#111111"/>
<polygon points="603.5,800.6 598.0,810.5 609.0,810.5" fill="#111111"/>
<polygon points="672.5,809.1 667.0,819.0 678.0,819.0" fill="#111111"/>
<polygon points="735.0,847.5 729.5,857.4 740.5,857.4" fill="#111111"/>
<polygon points="766.0,914.1 760.5,924.0 771.5,924.0" fill="#111111"/>
<polygon points="766.0,973.6 760.5,983.5 771.5,983.5" fill="#111111"/>
<polygon points="737.8,1004.4 732.3,1014.3 743.3,1014.3" fill="#111111"/>
<polygon points="706.0,1032.4 700.5,1042.3 711.5,1042.3" fill="#111111"/>
<polygon points="684.9,1033.4 679.4,1043.3 690.4,1043.3" fill="#111111"/>
<polygon points="664.8,1029.7 659.3,1039.6 670.3,1039.6" fill="#111111"/>
<polygon points="658.5,1028.1 653.0,1038.0 664.0,1038.0" fill="#111111"/>
<line x1="133.2" y1="649.5" x2="849.0" y2="649.5" stroke="#c9bfbf" stroke-width="2.4"/>
<line x1="849.0" y1="649.5" x2="849.0" y2="1177.8" stroke="#222" stroke-width="2.2"/>
<line x1="133.2" y1="1177.8" x2="849.0" y2="1177.8" stroke="#333" stroke-width="2.2"/>
<line x1="133.2" y1="649.5" x2="133.2" y2="1178.8" stroke="#333" stroke-width="2.2"/>
<line x1="133.2" y1="1177.5" x2="138.2" y2="1177.5" stroke="#222" stroke-width="2"/>
<line x1="845.0" y1="1177.5" x2="849.0" y2="1177.5" stroke="#222" stroke-width="1.8"/>
<line x1="133.2" y1="1116.0" x2="143.2" y2="1116.0" stroke="#222" stroke-width="2"/>
<line x1="842.0" y1="1116.0" x2="849.0" y2="1116.0" stroke="#222" stroke-width="1.8"/>
<text x="120.5" y="1124.2" font-family="Liberation Sans" font-size="25" font-weight="normal" text-anchor="end" fill="#111" stroke="#111" stroke-width="0.3" textLength="61.5" lengthAdjust="spacingAndGlyphs">-0,05</text>
<line x1="133.2" y1="1054.5" x2="138.2" y2="1054.5" stroke="#222" stroke-width="2"/>
<line x1="845.0" y1="1054.5" x2="849.0" y2="1054.5" stroke="#222" stroke-width="1.8"/>
<line x1="133.2" y1="993.0" x2="143.2" y2="993.0" stroke="#222" stroke-width="2"/>
<line x1="842.0" y1="993.0" x2="849.0" y2="993.0" stroke="#222" stroke-width="1.8"/>
<text x="120.5" y="1001.2" font-family="Liberation Sans" font-size="25" font-weight="normal" text-anchor="end" fill="#111" stroke="#111" stroke-width="0.3" textLength="53" lengthAdjust="spacingAndGlyphs">0,00</text>
<line x1="133.2" y1="931.5" x2="138.2" y2="931.5" stroke="#222" stroke-width="2"/>
<line x1="845.0" y1="931.5" x2="849.0" y2="931.5" stroke="#222" stroke-width="1.8"/>
<line x1="133.2" y1="870.0" x2="143.2" y2="870.0" stroke="#222" stroke-width="2"/>
<line x1="842.0" y1="870.0" x2="849.0" y2="870.0" stroke="#222" stroke-width="1.8"/>
<text x="120.5" y="878.2" font-family="Liberation Sans" font-size="25" font-weight="normal" text-anchor="end" fill="#111" stroke="#111" stroke-width="0.3" textLength="53" lengthAdjust="spacingAndGlyphs">0,05</text>
<line x1="133.2" y1="808.5" x2="138.2" y2="808.5" stroke="#222" stroke-width="2"/>
<line x1="845.0" y1="808.5" x2="849.0" y2="808.5" stroke="#222" stroke-width="1.8"/>
<line x1="133.2" y1="747.0" x2="143.2" y2="747.0" stroke="#222" stroke-width="2"/>
<line x1="842.0" y1="747.0" x2="849.0" y2="747.0" stroke="#222" stroke-width="1.8"/>
<text x="120.5" y="755.2" font-family="Liberation Sans" font-size="25" font-weight="normal" text-anchor="end" fill="#111" stroke="#111" stroke-width="0.3" textLength="53" lengthAdjust="spacingAndGlyphs">0,10</text>
<line x1="133.2" y1="685.5" x2="138.2" y2="685.5" stroke="#222" stroke-width="2"/>
<line x1="845.0" y1="685.5" x2="849.0" y2="685.5" stroke="#222" stroke-width="1.8"/>
<line x1="252.5" y1="1167.8" x2="252.5" y2="1187.8" stroke="#222" stroke-width="2"/>
<line x1="252.5" y1="649.5" x2="252.5" y2="659.5" stroke="#333" stroke-width="2"/>
<text x="253.0" y="1217.9" font-family="Liberation Sans" font-size="25" font-weight="normal" text-anchor="middle" fill="#111" stroke="#111" stroke-width="0.25" textLength="35" lengthAdjust="spacingAndGlyphs">0,1</text>
<line x1="371.9" y1="1172.8" x2="371.9" y2="1182.8" stroke="#222" stroke-width="2"/>
<line x1="371.9" y1="649.5" x2="371.9" y2="654.5" stroke="#333" stroke-width="2"/>
<line x1="491.2" y1="1167.8" x2="491.2" y2="1187.8" stroke="#222" stroke-width="2"/>
<line x1="491.2" y1="649.5" x2="491.2" y2="659.5" stroke="#333" stroke-width="2"/>
<text x="491.7" y="1217.9" font-family="Liberation Sans" font-size="25" font-weight="normal" text-anchor="middle" fill="#111" stroke="#111" stroke-width="0.25" textLength="35" lengthAdjust="spacingAndGlyphs">0,2</text>
<line x1="610.5" y1="1172.8" x2="610.5" y2="1182.8" stroke="#222" stroke-width="2"/>
<line x1="610.5" y1="649.5" x2="610.5" y2="654.5" stroke="#333" stroke-width="2"/>
<line x1="729.9" y1="1167.8" x2="729.9" y2="1187.8" stroke="#222" stroke-width="2"/>
<line x1="729.9" y1="649.5" x2="729.9" y2="659.5" stroke="#333" stroke-width="2"/>
<text x="730.4" y="1217.9" font-family="Liberation Sans" font-size="25" font-weight="normal" text-anchor="middle" fill="#111" stroke="#111" stroke-width="0.25" textLength="35" lengthAdjust="spacingAndGlyphs">0,3</text>
<line x1="543.4" y1="664.1" x2="820.2" y2="664.1" stroke="#555" stroke-width="1.4" stroke-dasharray="2.5,1.5"/>
<line x1="543.4" y1="664.1" x2="543.4" y2="771.1" stroke="#666" stroke-width="1.4"/>
<line x1="543.4" y1="771.1" x2="820.2" y2="771.1" stroke="#8a8a8a" stroke-width="1.8"/>
<line x1="560.0" y1="771.1" x2="680.0" y2="771.1" stroke="#a0d0a0" stroke-width="1.8"/>
<line x1="820.2" y1="664.1" x2="820.2" y2="771.1" stroke="#666" stroke-width="1.3" stroke-dasharray="1.5,1.2"/>
<line x1="567.0" y1="688.7" x2="623.0" y2="688.7" stroke="#c0a0a0" stroke-width="1.3"/>
<rect x="588.4" y="682.2" width="13" height="13" fill="#f41410"/>
<text x="632.0" y="696.9" font-family="Liberation Sans" font-size="24" font-weight="normal" text-anchor="start" fill="#111" stroke="#111" stroke-width="0.7" textLength="176" lengthAdjust="spacingAndGlyphs">PtRu-SWCNT2</text>
<line x1="567.0" y1="720.3" x2="623.0" y2="720.3" stroke="#e05050" stroke-width="1.3"/>
<polygon points="595.0,711.2 587.8,724.2 602.2,724.2" fill="#111111"/>
<text x="632.0" y="728.5" font-family="Liberation Sans" font-size="24" font-weight="normal" text-anchor="start" fill="#111" stroke="#111" stroke-width="0.7" textLength="176" lengthAdjust="spacingAndGlyphs">PtRu-SWCNT3</text>
<line x1="567.0" y1="752.7" x2="623.0" y2="752.7" stroke="#a0c0a0" stroke-width="1.3"/>
<circle cx="595.0" cy="752.7" r="7.2" fill="#22e622"/>
<text x="632.0" y="760.9" font-family="Liberation Sans" font-size="24" font-weight="normal" text-anchor="start" fill="#111" stroke="#111" stroke-width="0.7" textLength="145" lengthAdjust="spacingAndGlyphs">PtRu-Vulcan</text>
<text x="158.8" y="930.5" font-family="Liberation Sans" font-size="22.5" font-weight="normal" text-anchor="start" fill="#111" stroke="#111" stroke-width="0.4" textLength="75.9" lengthAdjust="spacingAndGlyphs">10 kHz</text>
<line x1="186.0" y1="949.0" x2="216.0" y2="980.0" stroke="#111" stroke-width="2"/>
<polygon points="219.7,983.8 211.6,979.1 215.2,975.6" fill="#111"/>
<text x="659.6" y="1111.6" font-family="Liberation Sans" font-size="25" font-weight="normal" text-anchor="start" fill="#111" stroke="#111" stroke-width="0.5" textLength="99.9" lengthAdjust="spacingAndGlyphs">100 mHz</text>
<line x1="658.2" y1="1087.7" x2="609.0" y2="1053.0" stroke="#111" stroke-width="2"/>
<polygon points="604.7,1049.7 613.5,1052.9 610.6,1056.9" fill="#111"/>
<line x1="228.2" y1="995.0" x2="228.2" y2="1100.6" stroke="#333" stroke-width="1.3"/>
<line x1="566.8" y1="993.0" x2="566.8" y2="1044.0" stroke="#222" stroke-width="1.8"/>
<line x1="566.8" y1="1044.0" x2="566.8" y2="1129.5" stroke="#333" stroke-width="1.7" stroke-dasharray="3,2"/>
<line x1="133.0" y1="1092.3" x2="228.0" y2="1092.3" stroke="#333" stroke-width="1.3"/>
<polygon points="134.0,1092.3 144.0,1089.3 144.0,1095.3" fill="#111"/>
<polygon points="227.5,1092.3 217.5,1095.3 217.5,1089.3" fill="#111"/>
<line x1="133.0" y1="1116.2" x2="567.0" y2="1116.2" stroke="#555" stroke-width="1.6"/>
<polygon points="134.0,1116.2 144.0,1113.2 144.0,1119.2" fill="#111"/>
<polygon points="566.5,1116.2 556.5,1119.2 556.5,1113.2" fill="#111"/>
<text x="179.0" y="1048.0" font-family="Liberation Sans" font-size="24" font-weight="normal" text-anchor="start" fill="#111" stroke="#111" stroke-width="0.6" textLength="16.3" lengthAdjust="spacingAndGlyphs">R</text>
<text x="197.2" y="1058.8" font-family="Liberation Sans" font-size="14.5" font-weight="bold" text-anchor="start" fill="#111" textLength="8" lengthAdjust="spacingAndGlyphs">t</text>
<text x="377.5" y="1083.7" font-family="Liberation Sans" font-size="24" font-weight="normal" text-anchor="start" fill="#111" stroke="#111" stroke-width="0.6" textLength="16.3" lengthAdjust="spacingAndGlyphs">R</text>
<text x="395.2" y="1091.5" font-family="Liberation Sans" font-size="14.5" font-weight="bold" text-anchor="start" fill="#111" textLength="9.4" lengthAdjust="spacingAndGlyphs">p</text>
<text x="391.6" y="1265.4" font-family="Liberation Sans" font-size="28.5" font-weight="bold" text-anchor="start" fill="#111" stroke="#111" stroke-width="0.25" textLength="15.8" lengthAdjust="spacingAndGlyphs">Z</text>
<text x="411.7" y="1279.5" font-family="Liberation Sans" font-size="15.5" font-weight="bold" text-anchor="start" fill="#111" stroke="#111" stroke-width="0.25" textLength="22" lengthAdjust="spacingAndGlyphs">Re</text>
<text x="444.0" y="1265.4" font-family="Liberation Sans" font-size="28.5" font-weight="normal" text-anchor="start" fill="#111" stroke="#111" stroke-width="0.8" textLength="7" lengthAdjust="spacingAndGlyphs">/</text>
<text x="463.4" y="1265.4" font-family="Liberation Sans" font-size="28.5" font-weight="bold" text-anchor="start" fill="#111" stroke="#111" stroke-width="0.25" textLength="69.6" lengthAdjust="spacingAndGlyphs">Ohm</text>
<g transform="translate(22.4,976) rotate(-90)"><text x="0.0" y="0.0" font-family="Liberation Sans" font-size="33" font-weight="bold" text-anchor="start" fill="#111" textLength="10" lengthAdjust="spacingAndGlyphs">-</text><text x="18.0" y="0.0" font-family="Liberation Sans" font-size="33" font-weight="bold" text-anchor="start" fill="#111" textLength="20" lengthAdjust="spacingAndGlyphs">Z</text><text x="38.5" y="13.0" font-family="Liberation Sans" font-size="19" font-weight="bold" text-anchor="start" fill="#111" textLength="20.5" lengthAdjust="spacingAndGlyphs">Im</text><text x="68.0" y="0.0" font-family="Liberation Sans" font-size="33" font-weight="bold" text-anchor="start" fill="#111" textLength="10" lengthAdjust="spacingAndGlyphs">/</text><text x="86.3" y="0.0" font-family="Liberation Sans" font-size="33" font-weight="bold" text-anchor="start" fill="#111" textLength="71.6" lengthAdjust="spacingAndGlyphs">Ohm</text>
</g>
<text x="-1.5" y="1273.0" font-family="Liberation Sans" font-size="23.5" font-weight="normal" text-anchor="start" fill="#111" stroke="#111" stroke-width="0.2" textLength="33" lengthAdjust="spacingAndGlyphs">(b)</text>
</g>
</svg>
</body></html>
